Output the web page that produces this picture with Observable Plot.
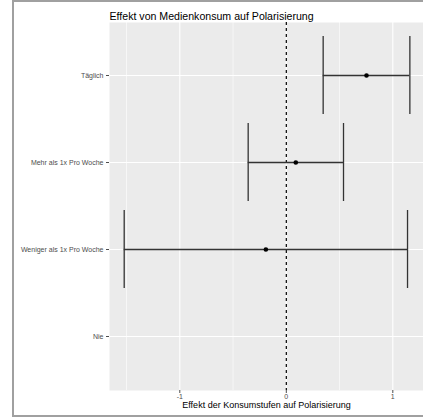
<!DOCTYPE html>
<html>
<head>
<meta charset="utf-8">
<script src="https://cdn.jsdelivr.net/npm/d3@7"></script>
<script src="https://cdn.jsdelivr.net/npm/@observablehq/plot@0.6"></script>
<style>
  html, body { margin: 0; padding: 0; background: white; overflow: hidden; }
  #wrap { position: relative; width: 423px; height: 418px; overflow: hidden; }
  #wrap svg { display: block; max-width: none !important; }
  #bl { position: absolute; left: 12px; top: 0px; width: 2px; height: 417px; background: #a0a0a0; pointer-events: none; }
  #bt { position: absolute; left: 12px; top: 0px; width: 411px; height: 2px; background: #a0a0a0; pointer-events: none; }
  #bb { position: absolute; left: 12px; top: 415px; width: 411px; height: 2px; background: #a0a0a0; pointer-events: none; }
</style>
</head>
<body>
<div id="wrap"><div id="bl"></div><div id="bt"></div><div id="bb"></div></div>
<script>
const titleText = "Effekt von Medienkonsum auf Polarisierung";
const xLabelText = "Effekt der Konsumstufen auf Polarisierung";
const categories = ["Täglich", "Mehr als 1x Pro Woche", "Weniger als 1x Pro Woche", "Nie"];
const estimates = [0.753, 0.089, -0.192, null];
const lower = [0.346, -0.358, -1.522, null];
const upper = [1.16, 0.537, 1.138, null];
const xTicks = [-1, 0, 1];
const xTickLabels = ["-1", "0", "1"];
const xMinorTicks = [-1.5, -0.5, 0.5];

const data = categories
  .map((c, i) => ({cat: c, est: estimates[i], lo: lower[i], hi: upper[i]}))
  .filter(d => d.est != null);

const font = "'Liberation Sans', Arial, Helvetica, sans-serif";

const chart = Plot.plot({
  width: 423,
  height: 418,
  marginLeft: 109,
  marginRight: 0,
  marginTop: 22,
  marginBottom: 28,
  style: {fontFamily: font, background: "transparent", overflow: "visible", maxWidth: "none"},
  x: {domain: [-1.66, 1.288]},
  y: {type: "band", domain: categories, paddingInner: 0.1, paddingOuter: 0.15},
  marks: [
    Plot.frame({fill: "#EBEBEB", stroke: null}),
    Plot.gridX(xMinorTicks, {stroke: "white", strokeOpacity: 1, strokeWidth: 0.6}),
    Plot.gridX(xTicks, {stroke: "white", strokeOpacity: 1, strokeWidth: 1.1}),
    Plot.gridY({stroke: "white", strokeOpacity: 1, strokeWidth: 1.1}),
    Plot.ruleX([0], {stroke: "black", strokeWidth: 1.2, strokeDasharray: "3,3"}),
    Plot.ruleY(data, {y: "cat", x1: "lo", x2: "hi", stroke: "#333", strokeWidth: 1.3}),
    Plot.tickX(data, {x: "lo", y: "cat", stroke: "#333", strokeWidth: 1.3}),
    Plot.tickX(data, {x: "hi", y: "cat", stroke: "#333", strokeWidth: 1.3}),
    Plot.dot(data, {x: "est", y: "cat", r: 2.3, fill: "black", stroke: null}),
    Plot.axisY({tickSize: 3, tickPadding: 3, fontSize: 7, color: "#4D4D4D", label: null}),
    Plot.axisX({ticks: xTicks, tickFormat: (d, i) => xTickLabels[xTicks.indexOf(d)], tickSize: 3, tickPadding: 1,
                fontSize: 7, color: "#4D4D4D", label: null}),
    Plot.text([xLabelText], {frameAnchor: "bottom", dy: 17, fontSize: 9, fill: "black", text: d => d}),
    Plot.text([titleText], {frameAnchor: "top-left", textAnchor: "start", dy: -10, fontSize: 10.6, fill: "black", text: d => d})
  ]
});

document.getElementById("wrap").prepend(chart);
</script>
</body>
</html>
